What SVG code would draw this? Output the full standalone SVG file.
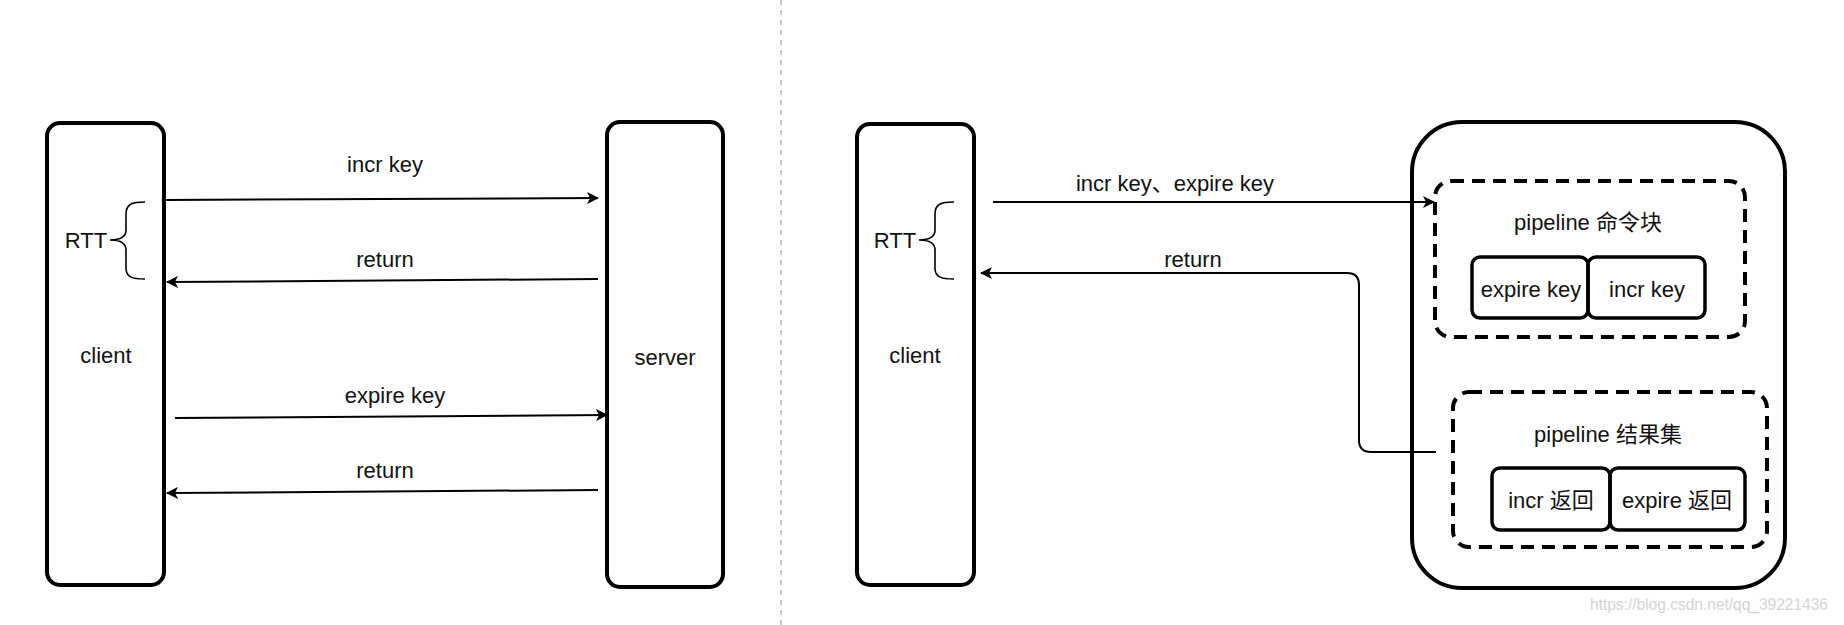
<svg xmlns="http://www.w3.org/2000/svg" width="1844" height="625" viewBox="0 0 1844 625">
<defs>
<style>
text{font-family:"Liberation Sans",Arial,"Noto Sans CJK SC",sans-serif;font-size:22px;fill:#111;text-anchor:middle}
.box{fill:none;stroke:#000;stroke-width:4}
.inner{fill:none;stroke:#000;stroke-width:3.5}
.dash{fill:none;stroke:#000;stroke-width:4;stroke-dasharray:13 8}
.conn{fill:none;stroke:#000;stroke-width:2}
.brace{fill:none;stroke:#000;stroke-width:1.6}
.sep{stroke:#c8c8c8;stroke-width:2;stroke-dasharray:5 5}
.wm{fill:#d4d4d4;font-size:16px;text-anchor:start}
</style>
<marker id="arr" viewBox="0 0 12 12" refX="11" refY="6" markerWidth="12" markerHeight="12" markerUnits="userSpaceOnUse" orient="auto">
<path d="M0,0 L12,6 L0,12 L3,6 Z" fill="#000"/>
</marker>
</defs>
<rect width="1844" height="625" fill="#fff"/>
<line class="sep" x1="781" y1="0" x2="781" y2="625"/>

<g id="client-left">
<rect class="box" x="47" y="123" width="117" height="462" rx="13"/>
<text x="106" y="363">client</text>
</g>
<g id="rtt-left">
<path class="brace" d="M145,202 C132,202 126,204 126,214 L126,230 C126,237 120,240 110,240 C120,240 126,243 126,250 L126,268 C126,277 132,279 145,279"/>
<text x="86" y="248">RTT</text>
</g>
<g id="server">
<rect class="box" x="607" y="122" width="116" height="465" rx="13"/>
<text x="665" y="365">server</text>
</g>

<g id="client-right">
<rect class="box" x="857" y="124" width="117" height="461" rx="13"/>
<text x="915" y="363">client</text>
</g>
<g id="rtt-right">
<path class="brace" d="M954,202 C941,202 935,204 935,214 L935,230 C935,237 929,240 919,240 C929,240 935,243 935,250 L935,268 C935,277 941,279 954,279"/>
<text x="895" y="248">RTT</text>
</g>

<g id="pipeline-server">
<rect class="box" x="1412" y="122" width="373" height="466" rx="50"/>
</g>
<g id="cmd-block">
<rect class="dash" x="1435" y="181" width="310" height="156" rx="16"/>
<text x="1588" y="230">pipeline 命令块</text>
<rect class="inner" x="1472" y="257" width="116" height="61" rx="8"/>
<text x="1531" y="297">expire key</text>
<rect class="inner" x="1588" y="257" width="117" height="61" rx="8"/>
<text x="1647" y="297">incr key</text>
</g>
<g id="result-set">
<rect class="dash" x="1453" y="392" width="314" height="155" rx="16"/>
<text x="1608" y="442">pipeline 结果集</text>
<rect class="inner" x="1492" y="468" width="118" height="62" rx="8"/>
<text x="1551" y="508">incr 返回</text>
<rect class="inner" x="1610" y="468" width="135" height="62" rx="8"/>
<text x="1677" y="508">expire 返回</text>
</g>

<g id="connectors">
<line class="conn" x1="164" y1="200" x2="598" y2="198" marker-end="url(#arr)"/>
<text x="385" y="172">incr key</text>
<line class="conn" x1="598" y1="279" x2="167" y2="282" marker-end="url(#arr)"/>
<text x="385" y="267">return</text>
<line class="conn" x1="175" y1="418" x2="607" y2="415" marker-end="url(#arr)"/>
<text x="395" y="403">expire key</text>
<line class="conn" x1="598" y1="490" x2="167" y2="493" marker-end="url(#arr)"/>
<text x="385" y="478">return</text>

<line class="conn" x1="993" y1="202" x2="1434" y2="202" marker-end="url(#arr)"/>
<text x="1175" y="191">incr key、expire key</text>
<path class="conn" d="M1436,452 L1371,452 Q1359,452 1359,440 L1359,285 Q1359,273 1347,273 L981,273" marker-end="url(#arr)"/>
<text x="1193" y="267">return</text>
</g>
<text class="wm" x="1590" y="610" textLength="238" lengthAdjust="spacingAndGlyphs">https://blog.csdn.net/qq_39221436</text>
</svg>
